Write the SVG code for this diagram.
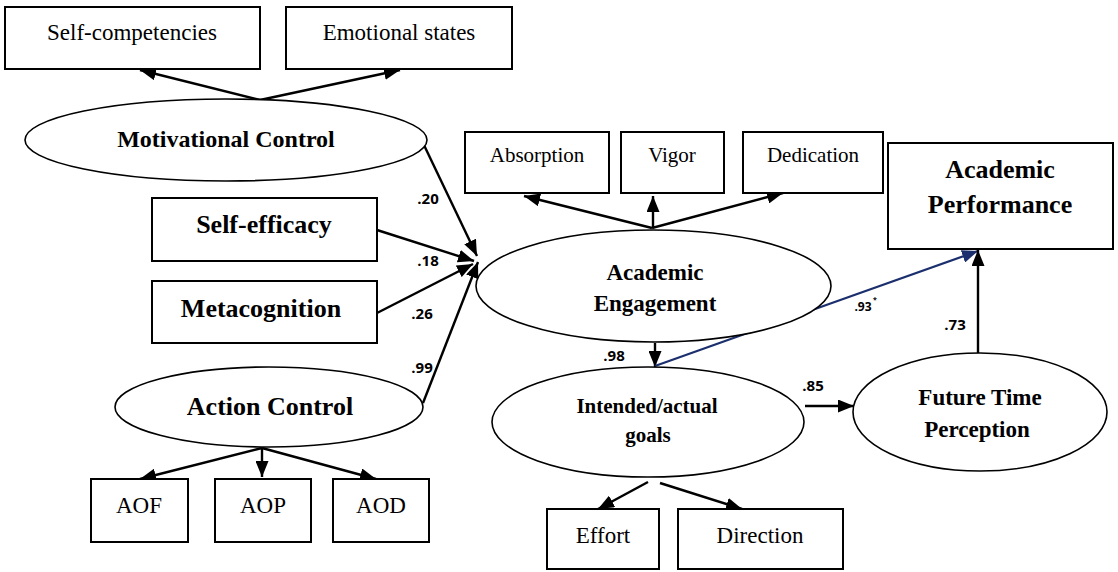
<svg xmlns="http://www.w3.org/2000/svg" width="1118" height="572" viewBox="0 0 1118 572">
<defs>
<style>
.box{fill:#fff;stroke:#000;stroke-width:2}
.ell{fill:#fff;stroke:#000;stroke-width:1.6}
.t{font-family:"Liberation Serif","Times New Roman",serif;fill:#000;text-anchor:middle}
.b{font-weight:bold}
.ln{stroke:#000;stroke-width:2.4;fill:none;marker-end:url(#ah)}
.blue{stroke:#1b2f6e;stroke-width:2.2;fill:none;marker-end:url(#ahb)}
.lbl{font-family:"Open Sans","Liberation Sans",sans-serif;font-weight:bold;font-size:15px;fill:#000;text-anchor:middle}
</style>
<marker id="ah" viewBox="0 0 16 13" refX="16" refY="6.5" markerWidth="16" markerHeight="13" markerUnits="userSpaceOnUse" orient="auto">
<path d="M0,0 L16,6.5 L0,13 Z" fill="#000"/>
</marker>
<marker id="ahb" viewBox="0 0 16 13" refX="16" refY="6.5" markerWidth="16" markerHeight="13" markerUnits="userSpaceOnUse" orient="auto">
<path d="M0,0 L16,6.5 L0,13 Z" fill="#1b2f6e"/>
</marker>
</defs>
<rect width="1118" height="572" fill="#fff"/>

<g id="connectors">
<line class="ln" x1="260" y1="100" x2="140" y2="70"/>
<line class="ln" x1="260" y1="100" x2="400" y2="70"/>
<line class="ln" x1="423" y1="143" x2="477" y2="256"/>
<line class="ln" x1="377" y1="230" x2="474" y2="261"/>
<line class="ln" x1="377" y1="313" x2="473" y2="264"/>
<line class="ln" x1="423" y1="403" x2="478" y2="262"/>
<line class="ln" x1="652" y1="228" x2="524" y2="196"/>
<line class="ln" x1="653" y1="228" x2="653" y2="196"/>
<line class="ln" x1="652" y1="228" x2="783" y2="193"/>
<line class="ln" x1="655" y1="343" x2="655" y2="367"/>
<line class="blue" x1="655" y1="366" x2="978" y2="251"/>
<line class="ln" x1="978" y1="353" x2="978" y2="250"/>
<line class="ln" x1="805" y1="406" x2="854" y2="406"/>
<line class="ln" x1="648" y1="482" x2="598" y2="509"/>
<line class="ln" x1="660" y1="483" x2="742" y2="509"/>
<line class="ln" x1="262" y1="448" x2="140" y2="479"/>
<line class="ln" x1="262" y1="448" x2="262" y2="477"/>
<line class="ln" x1="262" y1="448" x2="376" y2="479"/>
<text class="lbl" x="428" y="204">.20</text>
<text class="lbl" x="428" y="266">.18</text>
<text class="lbl" x="422" y="319">.26</text>
<text class="lbl" x="422" y="373">.99</text>
<text class="lbl" x="614" y="361">.98</text>
<text class="lbl" x="813" y="391">.85</text>
<text class="lbl" x="955" y="330">.73</text>
<text class="lbl" x="863" y="311" style="font-size:12px">.93</text>
<text class="lbl" x="875" y="302" style="font-size:7px">*</text>
</g>

<g id="self-competencies"><rect class="box" x="5" y="7" width="255" height="62"/><text class="t" x="132" y="40" font-size="23">Self-competencies</text></g>
<g id="emotional-states"><rect class="box" x="286" y="7" width="226" height="62"/><text class="t" x="399" y="40" font-size="23">Emotional states</text></g>
<g id="motivational-control"><ellipse class="ell" cx="226" cy="140" rx="201" ry="41"/><text class="t b" x="226" y="147" font-size="24">Motivational Control</text></g>
<g id="self-efficacy"><rect class="box" x="152" y="198" width="225" height="63"/><text class="t b" x="264" y="233" font-size="26">Self-efficacy</text></g>
<g id="metacognition"><rect class="box" x="152" y="281" width="225" height="62"/><text class="t b" x="261" y="317" font-size="26">Metacognition</text></g>
<g id="action-control"><ellipse class="ell" cx="269" cy="407" rx="154" ry="40"/><text class="t b" x="270" y="415" font-size="26">Action Control</text></g>
<g id="aof"><rect class="box" x="91" y="479" width="97" height="63"/><text class="t" x="139" y="513" font-size="23">AOF</text></g>
<g id="aop"><rect class="box" x="215" y="479" width="96" height="63"/><text class="t" x="263" y="513" font-size="23">AOP</text></g>
<g id="aod"><rect class="box" x="333" y="479" width="96" height="63"/><text class="t" x="381" y="513" font-size="23">AOD</text></g>
<g id="absorption"><rect class="box" x="465" y="132" width="144" height="61"/><text class="t" x="537" y="162" font-size="21">Absorption</text></g>
<g id="vigor"><rect class="box" x="621" y="132" width="103" height="61"/><text class="t" x="672" y="162" font-size="21">Vigor</text></g>
<g id="dedication"><rect class="box" x="743" y="132" width="140" height="61"/><text class="t" x="813" y="162" font-size="21">Dedication</text></g>
<g id="academic-engagement"><ellipse class="ell" cx="653.5" cy="286" rx="177.5" ry="56"/><text class="t b" x="655" y="280" font-size="23">Academic</text><text class="t b" x="655" y="311" font-size="23">Engagement</text></g>
<g id="academic-performance"><rect class="box" x="888" y="143" width="225" height="106"/><text class="t b" x="1000" y="178" font-size="26">Academic</text><text class="t b" x="1000" y="213" font-size="26">Performance</text></g>
<g id="intended-actual-goals"><ellipse class="ell" cx="648" cy="422" rx="156" ry="55"/><text class="t b" x="647" y="413" font-size="21">Intended/actual</text><text class="t b" x="648" y="442" font-size="21">goals</text></g>
<g id="future-time-perception"><ellipse class="ell" cx="980" cy="412" rx="127" ry="59"/><text class="t b" x="980" y="405" font-size="23">Future Time</text><text class="t b" x="977" y="437" font-size="23">Perception</text></g>
<g id="effort"><rect class="box" x="547" y="509" width="112" height="60"/><text class="t" x="603" y="543" font-size="23">Effort</text></g>
<g id="direction"><rect class="box" x="678" y="509" width="165" height="60"/><text class="t" x="760" y="543" font-size="23">Direction</text></g>
</svg>
